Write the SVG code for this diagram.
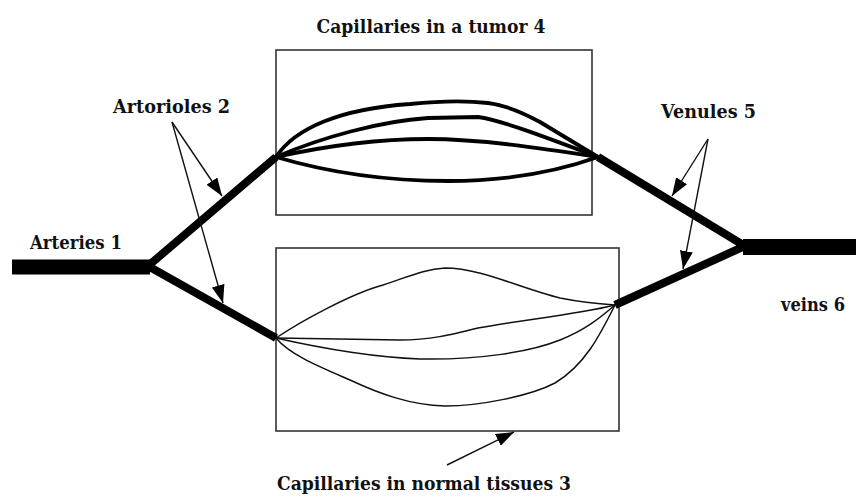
<svg xmlns="http://www.w3.org/2000/svg" width="856" height="496" viewBox="0 0 856 496">
<style>
.lbl{font-family:'DejaVu Serif',serif;font-weight:bold;font-size:19px;fill:#111}
.box{fill:none;stroke:#333;stroke-width:1.6}
.vessel{fill:none;stroke:#000;stroke-linejoin:miter;stroke-linecap:butt}
.tcap{fill:none;stroke:#000;stroke-width:3.8;stroke-linecap:round}
.ncap{fill:none;stroke:#111;stroke-width:1.5}
.ptr{fill:none;stroke:#111;stroke-width:1.4}
</style>
<defs>
<marker id="ah" markerUnits="userSpaceOnUse" markerWidth="20" markerHeight="14" refX="18" refY="6.5" orient="auto">
<path d="M0,0 L18,6.5 L0,13 Z" fill="#000"/>
</marker>
</defs>
<rect width="856" height="496" fill="#fff"/>

<g id="tumor-box">
<rect class="box" x="276" y="50" width="316" height="165"/>
<path class="tcap" d="M276,157 C295,128 340,109 410,104 C440,101 470,101 488,103 C505,105 520,111 540,122 L598,157"/>
<path class="tcap" d="M276,157 C320,138 380,121 428,118 L478,117 C500,120 540,135 598,157"/>
<path class="tcap" d="M276,157 C330,145 380,139 428,139 C480,139 540,148 598,157"/>
<path class="tcap" d="M276,157 C320,170 380,181 448,181 C500,181 550,174 598,157"/>
<text class="lbl" x="431" y="33" text-anchor="middle" textLength="229" lengthAdjust="spacingAndGlyphs">Capillaries in a tumor 4</text>
</g>

<g id="normal-box">
<rect class="box" x="276" y="248" width="343" height="183"/>
<path class="ncap" d="M276,338 C300,322 350,294 383,285 C410,276 425,269 445,268 C480,268 520,288 560,298 C585,303 600,304 615,305"/>
<path class="ncap" d="M276,338 L400,340 C430,340 450,335 478,328 C520,320 575,315 615,305"/>
<path class="ncap" d="M276,338 C320,348 370,357 420,359 C480,360 530,352 560,340 C585,330 600,318 615,305"/>
<path class="ncap" d="M276,338 C290,355 320,367 350,380 C380,394 410,405 445,406 C480,406 530,396 555,383 C585,365 600,335 615,305"/>
<text class="lbl" x="424" y="490" text-anchor="middle" textLength="294" lengthAdjust="spacingAndGlyphs">Capillaries in normal tissues 3</text>
</g>

<g id="arteries">
<line class="vessel" x1="12" y1="267" x2="150" y2="267" stroke-width="15"/>
<text class="lbl" x="30" y="249" textLength="92" lengthAdjust="spacingAndGlyphs">Arteries 1</text>
</g>

<g id="arterioles">
<polyline class="vessel" points="276,157 148,266 276,338" stroke-width="8"/>
<text class="lbl" x="113" y="113" textLength="117" lengthAdjust="spacingAndGlyphs">Artorioles 2</text>
</g>

<g id="venules">
<polyline class="vessel" points="598,157 745,246 615,305" stroke-width="8"/>
<text class="lbl" x="661" y="118" textLength="95" lengthAdjust="spacingAndGlyphs">Venules 5</text>
</g>

<g id="veins">
<line class="vessel" x1="743" y1="247" x2="856" y2="247" stroke-width="16"/>
<text class="lbl" x="781" y="311" textLength="64" lengthAdjust="spacingAndGlyphs">veins 6</text>
</g>

<g id="connectors">
<line class="ptr" x1="172" y1="122" x2="222" y2="196" marker-end="url(#ah)"/>
<line class="ptr" x1="172" y1="122" x2="223" y2="303" marker-end="url(#ah)"/>
<line class="ptr" x1="708" y1="139" x2="672" y2="196" marker-end="url(#ah)"/>
<line class="ptr" x1="708" y1="139" x2="683" y2="269" marker-end="url(#ah)"/>
<line class="ptr" x1="447" y1="465" x2="514" y2="432" marker-end="url(#ah)"/>
</g>
</svg>
